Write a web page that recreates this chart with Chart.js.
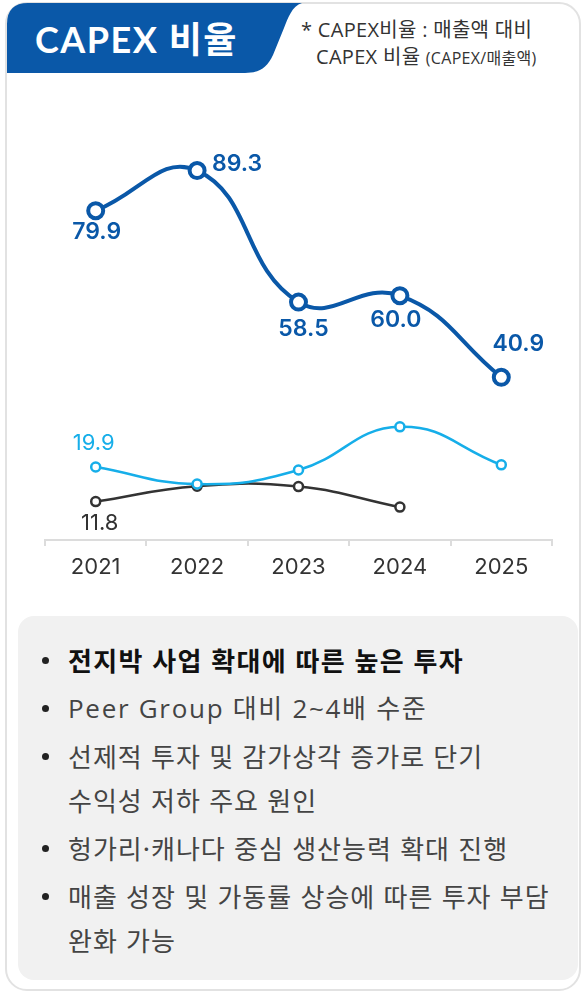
<!DOCTYPE html>
<html lang="ko">
<head>
<meta charset="utf-8">
<script src="https://cdn.jsdelivr.net/npm/chart.js@4.4.1/dist/chart.umd.min.js"></script>
<style>
  html, body { margin: 0; padding: 0; background: #fff; }
  body { width: 582px; height: 992px; position: relative; overflow: hidden; font-family: 'Noto Sans CJK KR', sans-serif; }
  .card { position: absolute; left: 5px; top: 2px; width: 572px; height: 985px; border: 2px solid #e2e2e2; border-radius: 22px; }
  .tab { position: absolute; left: 0; top: 0; }
  .title { position: absolute; left: 35px; top: 11px; color: #fff; font-size: 36px; font-weight: 700; letter-spacing: 1.5px; font-family: Lato, 'Noto Sans CJK KR', sans-serif; }
  .note { position: absolute; left: 301px; top: 16px; color: #333; font-size: 20px; line-height: 27px; letter-spacing: 0.3px; font-family: 'Open Sans', 'Noto Sans CJK KR', sans-serif; }
  .note small { font-size: 16px; }
  .note .ind { padding-left: 15px; }
  #wrap { position: absolute; left: 0; top: 100px; width: 582px; height: 490px; }
  .box { position: absolute; left: 18px; top: 616px; width: 560px; height: 364px; background: #f1f1f1; border-radius: 16px; }
  .box ul { list-style: none; margin: 0; padding: 22px 0 0 0; }
  .box li { position: relative; padding-left: 50px; font-size: 26px; line-height: 44px; color: #444; margin-bottom: 4px; letter-spacing: 1px; }
  .box li::before { content: ''; position: absolute; left: 24px; top: 19px; width: 7px; height: 7px; border-radius: 50%; background: #222; }
  .box li.b { font-weight: 700; color: #111; letter-spacing: 1.3px; }
  .box li.l { font-weight: 400; color: #444; font-family: 'Open Sans', 'Noto Sans CJK KR', sans-serif; letter-spacing: 1.7px; }
</style>
</head>
<body>
<div class="card"></div>
<svg class="tab" width="320" height="80">
  <path d="M7,73 L7,24 Q7,3 28,3 L302,3 C292,6 288,18 284,28 L273,55 C267,68 259,73 245,73 Z" fill="#0A58A8"/>
</svg>
<div class="title">CAPEX 비율</div>
<div class="note">* CAPEX비율 : 매출액 대비<br><span class="ind">CAPEX 비율 <small>(CAPEX/매출액)</small></span></div>
<div id="wrap"><canvas id="capexChart"></canvas></div>
<div class="box">
  <ul>
    <li class="b">전지박 사업 확대에 따른 높은 투자</li>
    <li class="l">Peer Group 대비 2~4배 수준</li>
    <li>선제적 투자 및 감가상각 증가로 단기<br>수익성 저하 주요 원인</li>
    <li>헝가리·캐나다 중심 생산능력 확대 진행</li>
    <li>매출 성장 및 가동률 상승에 따른 투자 부담<br>완화 가능</li>
  </ul>
</div>
<script>
const years = ['2021', '2022', '2023', '2024', '2025'];
const capexRatio = [79.9, 89.3, 58.5, 60.0, 40.9];
const peerHigh = [19.9, 15.9, 19.2, 29.3, 20.4];
const peerLow = [11.8, 15.4, 15.3, 10.5, null];

// label offsets from the point (dx, dy), null = no label
const labelOffsets = [
    [[1, 21], [40, -6], [5, 27], [-4, 24], [17, -33]],
    [[-2, -24], null, null, null, null],
    [[4, 22], null, null, null, null]
];

const valueLabels = {
    id: 'valueLabels',
    afterDatasetsDraw(chart) {
        const ctx = chart.ctx;
        chart.data.datasets.forEach(function (ds, i) {
            const meta = chart.getDatasetMeta(i);
            meta.data.forEach(function (pt, j) {
                const off = labelOffsets[i][j];
                if (!off || ds.data[j] == null) return;
                ctx.save();
                ctx.font = ds.labelFont;
                ctx.fillStyle = ds.borderColor;
                ctx.textAlign = 'center';
                ctx.textBaseline = 'middle';
                ctx.fillText(ds.data[j].toFixed(1), pt.x + off[0], pt.y + off[1]);
                ctx.restore();
            });
        });
    }
};

const ctx = document.getElementById('capexChart').getContext('2d');
new Chart(ctx, {
    type: 'line',
    data: {
        labels: years,
        datasets: [{
            data: capexRatio,
            borderColor: '#0A58A8',
            borderWidth: 4,
            pointRadius: 7.5,
            pointBorderWidth: 4,
            pointBackgroundColor: '#fff',
            pointBorderColor: '#0A58A8',
            tension: 0.45,
            labelFont: '600 23px Inter, sans-serif'
        }, {
            data: peerHigh,
            borderColor: '#16AEE9',
            borderWidth: 2.5,
            pointRadius: 4.5,
            pointBorderWidth: 2.5,
            pointBackgroundColor: '#fff',
            pointBorderColor: '#16AEE9',
            tension: 0.45,
            labelFont: '400 22px Inter, sans-serif'
        }, {
            data: peerLow,
            borderColor: '#333333',
            borderWidth: 2.5,
            pointRadius: 4.5,
            pointBorderWidth: 2.5,
            pointBackgroundColor: '#fff',
            pointBorderColor: '#333333',
            tension: 0.45,
            labelFont: '400 22px Inter, sans-serif'
        }]
    },
    options: {
        responsive: true,
        maintainAspectRatio: false,
        animation: false,
        layout: { padding: { top: 30, left: 45, right: 30, bottom: 0 } },
        plugins: { legend: { display: false }, tooltip: { enabled: false } },
        scales: {
            x: {
                offset: true,
                grid: { offset: true, drawOnChartArea: false, tickLength: 6, color: '#dcdcdc', lineWidth: 2 },
                border: { color: '#dcdcdc', width: 2 },
                ticks: { color: '#333', padding: 8, font: { family: 'Inter', size: 22 } },
                afterFit: function (s) { s.height = 50; }
            },
            y: {
                display: false,
                min: 2.8,
                max: 98.8
            }
        }
    },
    plugins: [valueLabels]
});
</script>
</body>
</html>
